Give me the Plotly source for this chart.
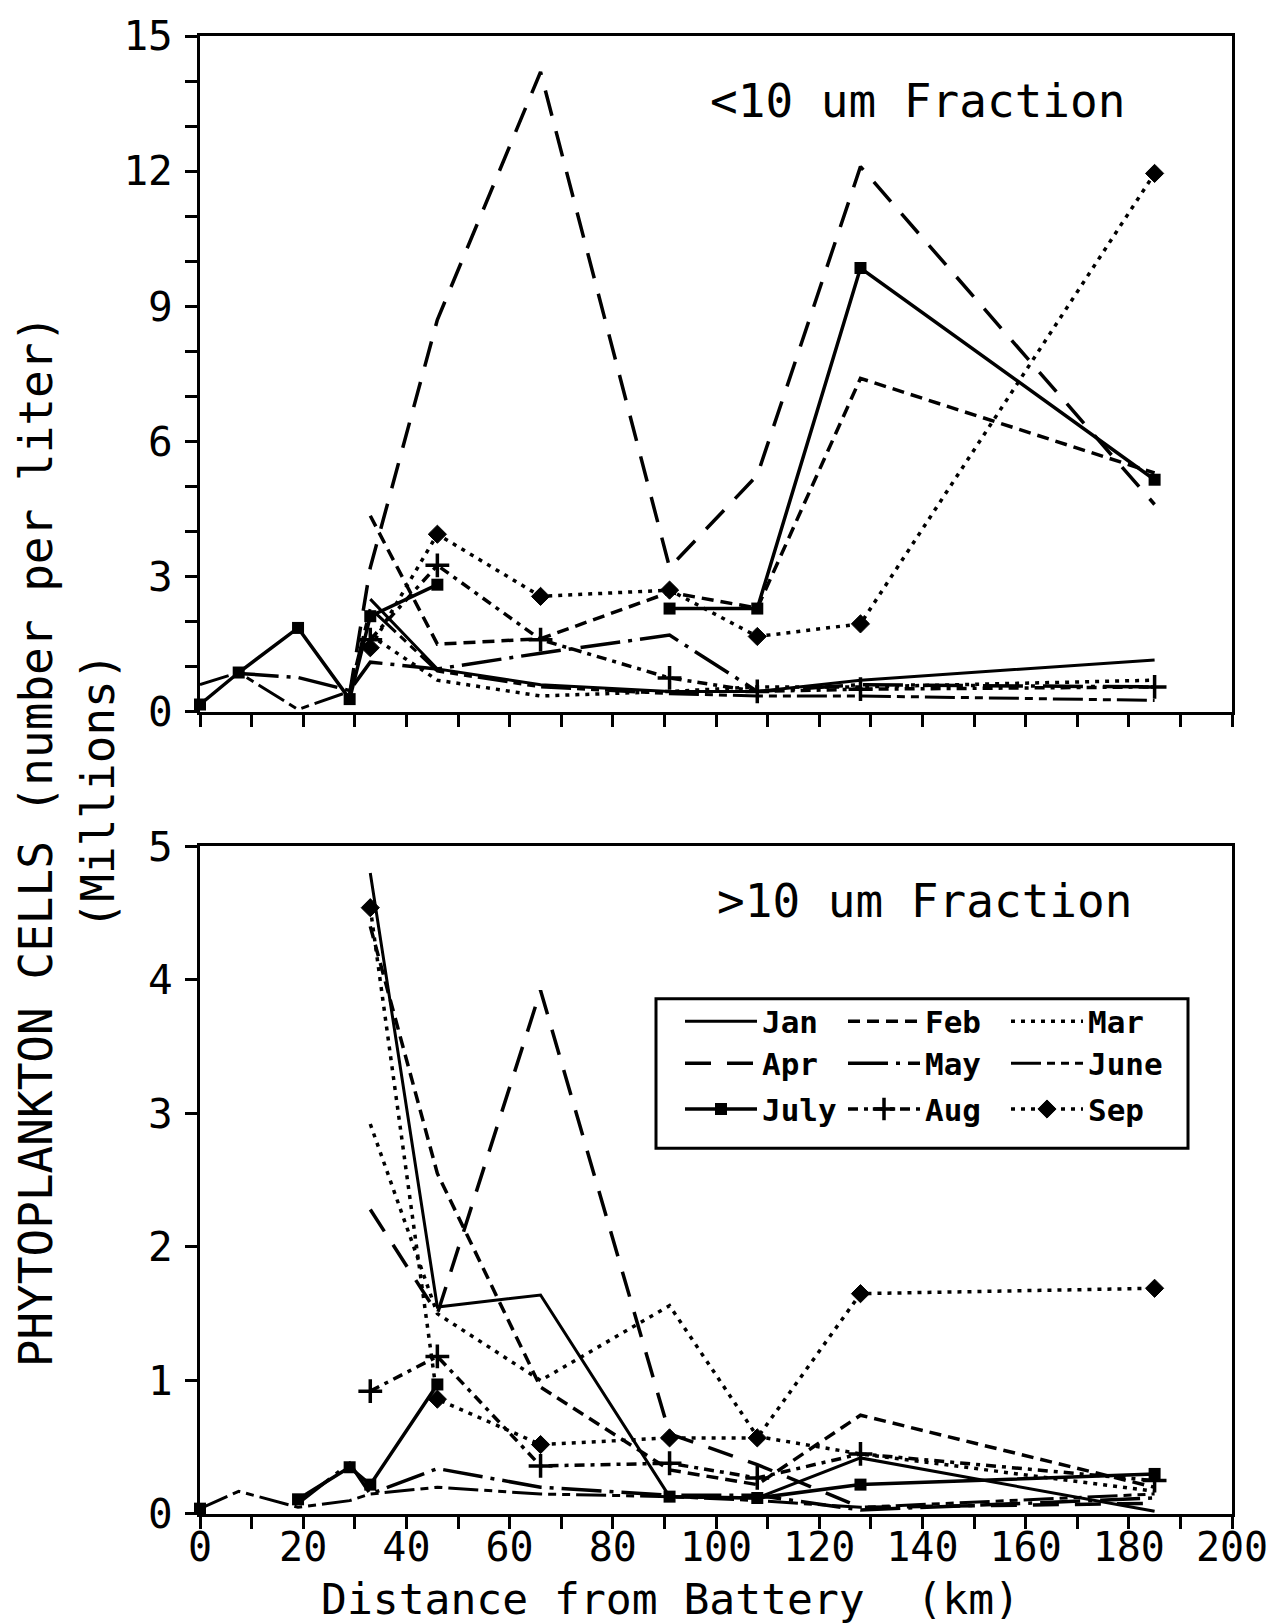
import plotly.graph_objects as go

# Sampling stations along the estuary (km from the Battery)
distance_km = [0, 7.5, 19, 29, 33, 46, 66, 91, 108, 128, 185]
months = ["Jan", "Feb", "Mar", "Apr", "May", "June", "July", "Aug", "Sep"]

# <10 um fraction, millions of cells per liter
small_jan = [None, None, None, None, 2.5, 0.95, 0.6, 0.45, 0.45, 0.7, 1.15]
small_feb = [None, None, None, None, 4.35, 1.5, 1.62, 2.65, 2.3, 7.4, 5.3]
small_mar = [None, None, None, None, 1.7, 0.7, 0.35, 0.45, 0.55, 0.55, 0.7]
small_apr = [None, None, None, 0.4, 3.2, 8.7, 14.2, 3.2, 5.25, 12.1, 4.6]
small_may = [None, 0.85, 0.76, 0.47, 1.1, 0.95, 1.3, 1.7, 0.45, 0.6, 0.55]
small_june = [0.6, 0.87, 0.05, 0.45, 2.3, 0.9, 0.55, 0.4, 0.35, 0.35, 0.25]
small_july = [0.16, 0.87, 1.86, 0.28, 2.12, 2.82, None, 2.29, 2.29, 9.85, 5.15]
small_aug = [None, None, None, None, 1.6, 3.25, 1.6, 0.75, 0.45, 0.5, 0.55]
small_sep = [None, None, None, None, 1.42, 3.94, 2.56, 2.7, 1.67, 1.95, 11.95]

# >10 um fraction, millions of cells per liter
large_jan = [None, None, None, None, 4.8, 1.55, 1.64, 0.13, 0.12, 0.42, 0.02]
large_feb = [None, None, None, None, 4.4, 2.55, 0.95, 0.33, 0.22, 0.74, 0.2]
large_mar = [None, None, None, None, 2.92, 1.5, 1.0, 1.56, 0.58, 0.45, 0.17]
large_apr = [None, None, None, None, 2.28, 1.5, 3.92, 0.6, 0.37, 0.05, 0.08]
large_may = [0.04, None, 0.08, 0.38, 0.15, 0.34, 0.2, 0.14, 0.14, 0.03, 0.12]
large_june = [0.04, 0.17, 0.05, 0.1, 0.15, 0.2, 0.15, 0.13, 0.1, 0.05, 0.15]
large_july = [0.04, None, 0.11, 0.35, 0.22, 0.97, None, 0.13, 0.12, 0.22, 0.3]
large_aug = [None, None, None, None, 0.92, 1.18, 0.36, 0.38, 0.27, 0.45, 0.25]
large_sep = [None, None, None, None, 4.54, 0.86, 0.52, 0.57, 0.57, 1.65, 1.69]

small_series = [small_jan, small_feb, small_mar, small_apr, small_may,
                small_june, small_july, small_aug, small_sep]
large_series = [large_jan, large_feb, large_mar, large_apr, large_may,
                large_june, large_july, large_aug, large_sep]

# Line / marker style per month
styles = {
    "Jan": dict(dash="solid", width=3, symbol=None),
    "Feb": dict(dash="12px,7px", width=3.5, symbol=None),
    "Mar": dict(dash="4px,6px", width=3.5, symbol=None),
    "Apr": dict(dash="26px,16px", width=3.5, symbol=None),
    "May": dict(dash="40px,8px,4px,8px", width=3.5, symbol=None),
    "June": dict(dash="30px,6px,8px,6px,8px,6px", width=3, symbol=None),
    "July": dict(dash="solid", width=3.5, symbol="square"),
    "Aug": dict(dash="10px,6px,4px,6px", width=3.5, symbol="cross-thin-open"),
    "Sep": dict(dash="4px,6px", width=3.5, symbol="diamond"),
}
legend_row = {"Jan": "legend", "Feb": "legend", "Mar": "legend",
              "Apr": "legend2", "May": "legend2", "June": "legend2",
              "July": "legend3", "Aug": "legend3", "Sep": "legend3"}

INK = "black"
FONT = "DejaVu Sans Mono"

fig = go.Figure()


def add_month(name, values, xa, ya, show):
    st = styles[name]
    mode = "lines+markers" if st["symbol"] else "lines"
    marker = dict(color=INK, size=1)
    if st["symbol"] == "square":
        marker = dict(symbol="square", size=12, color=INK)
    elif st["symbol"] == "cross-thin-open":
        marker = dict(symbol="cross-thin-open", size=17, color=INK,
                      line=dict(width=3.5, color=INK))
    elif st["symbol"] == "diamond":
        marker = dict(symbol="diamond", size=14, color=INK,
                      line=dict(width=1, color=INK))
    fig.add_trace(go.Scatter(
        x=distance_km, y=values, name=name, mode=mode,
        line=dict(color=INK, width=st["width"], dash=st["dash"]),
        marker=marker, connectgaps=False, cliponaxis=False,
        xaxis=xa, yaxis=ya, showlegend=show, legend=legend_row[name],
        hoverinfo="skip"))


for name, vals in zip(months, small_series):
    add_month(name, vals, "x", "y", False)
for name, vals in zip(months, large_series):
    add_month(name, vals, "x2", "y2", True)

tick_font = dict(family=FONT, size=41, color=INK)
xtick_font = dict(family=FONT, size=40, color=INK)
common_axis = dict(showgrid=False, zeroline=False, showline=True, linecolor=INK,
                   linewidth=3, mirror=True, ticks="outside", ticklen=12,
                   tickwidth=3, tickcolor=INK, tickfont=tick_font)
minor_ticks = dict(ticks="outside", ticklen=12, tickwidth=3, tickcolor=INK)


# plot area in pixels: x 200..1232, y 31..1514
def px_x(p):
    return (p - 200) / 1032


def px_y(p):
    return (1514 - p) / 1483


legend_base = dict(orientation="h",
                   font=dict(family=FONT, size=31, color=INK, weight="bold"),
                   bgcolor="rgba(0,0,0,0)", borderwidth=0, itemwidth=72,
                   entrywidth=76, entrywidthmode="pixels", xanchor="left",
                   yanchor="middle", tracegroupgap=0, itemclick=False)

fig.update_layout(
    width=1282, height=1624,
    margin=dict(l=200, r=50, t=31, b=110),
    paper_bgcolor="white", plot_bgcolor="white",
    font=dict(family=FONT, color=INK),
    xaxis=dict(common_axis, domain=[0, 1], range=[0, 200], anchor="y",
               dtick=20, showticklabels=False,
               minor=dict(minor_ticks, dtick=10)),
    yaxis=dict(common_axis, domain=[px_y(709), 1], range=[0, 15], anchor="x",
               dtick=3, ticklabelstandoff=4,
               minor=dict(minor_ticks, dtick=1)),
    xaxis2=dict(common_axis, domain=[0, 1], range=[0, 200], anchor="y2",
                dtick=20, ticklabelstandoff=-16, tickfont=xtick_font,
                minor=dict(minor_ticks, dtick=10)),
    yaxis2=dict(common_axis, domain=[0, px_y(844)], range=[0, 5], anchor="x2",
                dtick=1, ticklabelstandoff=4),
    legend=dict(legend_base, x=px_x(680), y=px_y(1020)),
    legend2=dict(legend_base, x=px_x(680), y=px_y(1062)),
    legend3=dict(legend_base, x=px_x(680), y=px_y(1108)),
)

# legend frame
fig.add_shape(type="rect", xref="paper", yref="paper",
              x0=px_x(656), x1=px_x(1188), y0=px_y(1147), y1=px_y(997),
              line=dict(color=INK, width=3))

annotations = [
    dict(text="<10 um Fraction", x=px_x(917), y=px_y(96), size=46),
    dict(text=">10 um Fraction", x=px_x(924), y=px_y(899), size=46),
    dict(text="Distance from Battery  (km)", x=px_x(670), y=px_y(1599), size=43),
    dict(text="PHYTOPLANKTON CELLS (number per liter)", x=px_x(36), y=px_y(839),
         size=46, textangle=-90),
    dict(text="(Millions)", x=px_x(98), y=px_y(789), size=46, textangle=-90),
]
for a in annotations:
    size = a.pop("size")
    fig.add_annotation(xref="paper", yref="paper", showarrow=False,
                       xanchor="center", yanchor="middle",
                       font=dict(family=FONT, size=size, color=INK), **a)

fig.write_html("out.html")
